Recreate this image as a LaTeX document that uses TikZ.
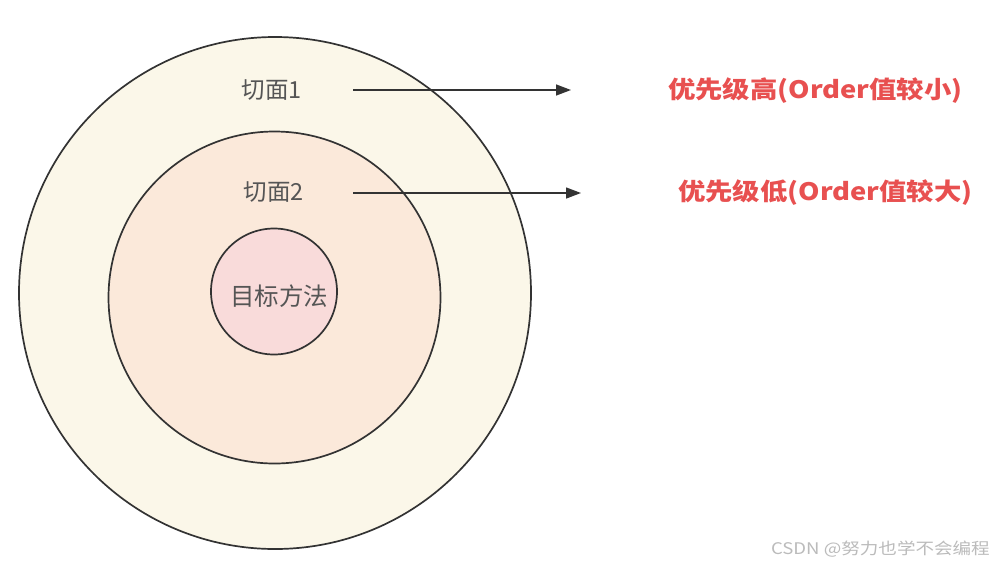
\documentclass[tikz,border=0pt]{standalone}
\usepackage{fontspec}
\setmainfont{Noto Sans CJK SC}
\usetikzlibrary{arrows.meta}
\definecolor{ringA}{HTML}{FBF7E9}
\definecolor{ringB}{HTML}{FBE9DA}
\definecolor{ringC}{HTML}{F9DBDA}
\definecolor{edgec}{HTML}{333333}
\definecolor{labc}{HTML}{555555}
\definecolor{redc}{HTML}{E85050}
\definecolor{wmc}{HTML}{BBBBBB}
\tikzset{
  ring/.style={circle, draw=edgec, line width=1.7pt, inner sep=0pt},
  lab/.style={text=labc, font=\fontsize{23.5}{25}\selectfont, inner sep=0pt},
  note/.style={text=redc, font=\bfseries\fontsize{24}{26}\selectfont, inner sep=0pt, anchor=west},
  arr/.style={draw=edgec, line width=1.4pt, -{Triangle[length=15pt,width=11pt]}}
}
\begin{document}
\begin{tikzpicture}[x=1pt,y=-1pt]
\useasboundingbox[fill=white] (0,0) rectangle (996,566);
\node[ring, fill=ringA, minimum size=512pt] (outer) at (275,293) {};
\node[ring, fill=ringB, minimum size=332pt] (middle) at (274.5,297.5) {};
\node[ring, fill=ringC, minimum size=126pt] (inner) at (274,291.5) {};
\node[lab] (l1) at (272,90) {切面1};
\node[lab] (l2) at (274,192) {切面2};
\node[lab, font=\fontsize{24.5}{26}\selectfont] (lt) at (279,296) {目标方法};
\coordinate (a1s) at (353,90);
\coordinate (a1e) at (571,90);
\coordinate (a2s) at (353,193);
\coordinate (a2e) at (581,193);
\draw[arr] (a1s) -- (a1e);
\draw[arr] (a2s) -- (a2e);
\node[note] (n1) at (668,91) {\scalebox{1.14}[1]{优先级高(Order值较小)}};
\node[note] (n2) at (678,193) {\scalebox{1.14}[1]{优先级低(Order值较大)}};
\node[text=wmc, font=\fontsize{16}{18}\selectfont, anchor=east, inner sep=0pt] (wm) at (990,549) {\scalebox{1.16}[1]{CSDN @努力也学不会编程}};
\end{tikzpicture}
\end{document}
